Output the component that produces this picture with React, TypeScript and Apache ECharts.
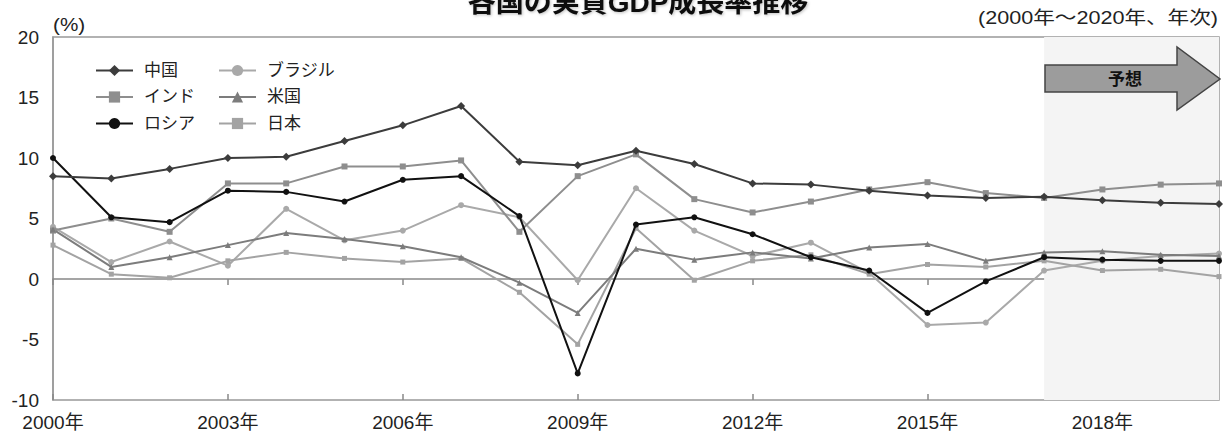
import React, { useEffect, useRef } from "react";
import * as echarts from "echarts";

const years = ["2000", "2001", "2002", "2003", "2004", "2005", "2006", "2007", "2008", "2009", "2010", "2011", "2012", "2013", "2014", "2015", "2016", "2017", "2018", "2019", "2020"];
const yTicks = [-10, -5, 0, 5, 10, 15, 20];
const china = [8.5, 8.3, 9.1, 10.0, 10.1, 11.4, 12.7, 14.3, 9.7, 9.4, 10.6, 9.5, 7.9, 7.8, 7.3, 6.9, 6.7, 6.8, 6.5, 6.3, 6.2];
const india = [4.0, 5.0, 3.9, 7.9, 7.9, 9.3, 9.3, 9.8, 3.9, 8.5, 10.3, 6.6, 5.5, 6.4, 7.4, 8.0, 7.1, 6.7, 7.4, 7.8, 7.9];
const russia = [10.0, 5.1, 4.7, 7.3, 7.2, 6.4, 8.2, 8.5, 5.2, -7.8, 4.5, 5.1, 3.7, 1.8, 0.7, -2.8, -0.2, 1.8, 1.6, 1.5, 1.5];
const brazil = [4.3, 1.4, 3.1, 1.1, 5.8, 3.2, 4.0, 6.1, 5.1, -0.1, 7.5, 4.0, 1.9, 3.0, 0.5, -3.8, -3.6, 0.7, 1.5, 1.9, 2.1];
const us = [4.1, 1.0, 1.8, 2.8, 3.8, 3.3, 2.7, 1.8, -0.3, -2.8, 2.5, 1.6, 2.2, 1.7, 2.6, 2.9, 1.5, 2.2, 2.3, 2.0, 1.9];
const japan = [2.8, 0.4, 0.1, 1.5, 2.2, 1.7, 1.4, 1.7, -1.1, -5.4, 4.2, -0.1, 1.5, 2.0, 0.4, 1.2, 1.0, 1.5, 0.7, 0.8, 0.2];
const forecastStart = "2017";
const forecastEnd = "2020";

const FONT = "Liberation Sans, Noto Sans CJK JP, sans-serif";

export default function App() {
  const ref = useRef<HTMLDivElement>(null);
  useEffect(() => {
    if (!ref.current) return;
    const chart = echarts.init(ref.current, null, { renderer: "svg" });
    const mk = (name: string, data: number[], color: string, symbol: string, size: number, z: number) => ({
      name,
      type: "line",
      data,
      symbol,
      symbolSize: size,
      z,
      lineStyle: { color, width: 2 },
      itemStyle: { color },
    });
    const legendCommon = {
      orient: "vertical",
      top: 57,
      itemWidth: 37,
      itemHeight: 14,
      itemGap: 9.5,
      textStyle: { fontSize: 17, color: "#222", fontFamily: FONT, padding: [0, 0, 0, 6] },
    };
    chart.setOption({
      animation: false,
      backgroundColor: "#fff",
      grid: { left: 53, right: 5, top: 37, bottom: 36, show: true, borderColor: "#999", borderWidth: 1.5 },
      legend: [
        { ...legendCommon, left: 90, data: ["中国", "インド", "ロシア"] },
        { ...legendCommon, left: 213, data: ["ブラジル", "米国", "日本"] },
      ],
      xAxis: [
        {
          type: "category",
          data: years,
          boundaryGap: false,
          position: "bottom",
          axisLine: { show: false, onZero: false },
          axisTick: { show: false },
          axisLabel: { interval: 2, formatter: (v: string) => v + "年", fontSize: 19, color: "#222", margin: 13, fontFamily: FONT },
        },
        {
          type: "category",
          data: years,
          boundaryGap: false,
          position: "bottom",
          axisLine: { show: true, onZero: true, lineStyle: { color: "#888", width: 1.5 } },
          axisTick: { show: true, interval: 2, length: 6, lineStyle: { color: "#888", width: 1.5 } },
          axisLabel: { show: false },
        },
        {
          type: "category",
          data: years,
          boundaryGap: false,
          position: "bottom",
          axisLine: { show: false, onZero: true },
          axisTick: { show: true, inside: true, interval: 2, length: 6, lineStyle: { color: "#888", width: 1.5 } },
          axisLabel: { show: false },
        },
      ],
      yAxis: {
        type: "value",
        min: yTicks[0],
        max: yTicks[yTicks.length - 1],
        interval: 5,
        axisLine: { show: true, lineStyle: { color: "#999", width: 1.5 } },
        axisTick: { show: false },
        splitLine: { show: false },
        axisLabel: { fontSize: 19, color: "#222", margin: 14, fontFamily: FONT },
      },
      series: [
        {
          ...mk("中国", china, "#3c3c3c", "diamond", 8, 6),
          markArea: {
            silent: true,
            itemStyle: { color: "#f4f4f4" },
            data: [[{ xAxis: forecastStart }, { xAxis: forecastEnd }]],
          },
        },
        mk("インド", india, "#8e8e8e", "rect", 6, 3),
        mk("ロシア", russia, "#111111", "circle", 6, 5),
        mk("ブラジル", brazil, "#a9a9a9", "circle", 6, 2),
        mk("米国", us, "#7c7c7c", "triangle", 6, 3),
        mk("日本", japan, "#a3a3a3", "rect", 5, 2),
      ],
      graphic: [
        {
          type: "text",
          x: 638,
          y: 2,
          style: {
            text: "各国の実質GDP成長率推移",
            fontSize: 28,
            fontWeight: "bold",
            fontFamily: FONT,
            fill: "#111",
            textAlign: "center",
            textVerticalAlign: "middle",
            textShadowColor: "rgba(0,0,0,0.25)",
            textShadowBlur: 3,
            textShadowOffsetX: 1,
            textShadowOffsetY: 1,
          },
        },
        {
          type: "text",
          x: 53,
          y: 25,
          scaleX: 1.15,
          style: { text: "(%)", fontSize: 18, fontFamily: FONT, fill: "#222", textVerticalAlign: "middle" },
        },
        {
          type: "text",
          x: 1218,
          y: 18,
          scaleX: 1.2,
          style: { text: "(2000年～2020年、年次)", fontSize: 18, fontFamily: FONT, fill: "#222", textAlign: "right", textVerticalAlign: "middle" },
        },
        {
          type: "polygon",
          z: 100,
          shape: { points: [[1045, 65], [1177, 65], [1177, 47], [1220, 79], [1177, 110], [1177, 92], [1045, 92]] },
          style: { fill: "#9c9c9c", stroke: "#444", lineWidth: 1.5 },
        },
        {
          type: "text",
          z: 101,
          x: 1125,
          y: 79,
          style: { text: "予想", fontSize: 17, fontWeight: "bold", fontFamily: FONT, fill: "#111", textAlign: "center", textVerticalAlign: "middle" },
        },
      ],
    });
    return () => chart.dispose();
  }, []);
  return <div ref={ref} style={{ position: "fixed", left: 0, top: 0, width: 1224, height: 436 }} />;
}
